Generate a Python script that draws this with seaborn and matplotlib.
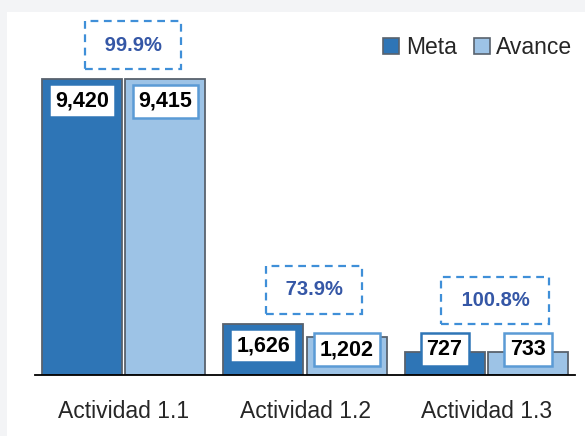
import pandas as pd
import matplotlib
matplotlib.use("Agg")
import matplotlib.pyplot as plt
import seaborn as sns
from matplotlib import font_manager
from matplotlib.patches import Rectangle

# Chart data
actividades = ["Actividad 1.1", "Actividad 1.2", "Actividad 1.3"]
meta = [9420, 1626, 727]
avance = [9415, 1202, 733]
series = ["Meta", "Avance"]

bar_colors = ["#2e75b6", "#9dc3e6"]
label_edges = ["#2e75b6", "#5b9bd5"]

df = pd.DataFrame(
    {
        "actividad": actividades * 2,
        "valor": meta + avance,
        "serie": [series[0]] * len(meta) + [series[1]] * len(avance),
    }
)

sns.set_style("white")
plt.rcParams["font.family"] = ["Liberation Sans", "DejaVu Sans"]

# condensed font for the value labels if it is there
try:
    font_manager.findfont("Liberation Sans Narrow", fallback_to_default=False)
    value_font, value_size = "Liberation Sans Narrow", 16.5
except ValueError:
    value_font, value_size = "Liberation Sans", 15.5

fig = plt.figure(figsize=(5.85, 4.36), dpi=100, facecolor="#f3f4f6")
# white panel behind the axes
fig.patches.append(
    Rectangle((7 / 585, 0), 1, (436 - 12) / 436, transform=fig.transFigure,
              facecolor="white", edgecolor="none", zorder=-10)
)
ax = fig.add_axes([35 / 585, 61 / 436, 540 / 585, 363 / 436])
ax.set_facecolor("none")

sns.barplot(
    data=df, x="actividad", y="valor", hue="serie", palette=bar_colors,
    width=0.92, gap=0.04, edgecolor="#59626d", linewidth=1.3,
    saturation=1, ax=ax, legend=False,
)

ax.set_ylim(0, 11550)
ax.set_xlim(-0.49, 2.49)
ax.set_xlabel("")
ax.set_ylabel("")
ax.set_yticks([])
for side in ["top", "right", "left"]:
    ax.spines[side].set_visible(False)
ax.spines["bottom"].set_color("black")
ax.spines["bottom"].set_linewidth(1.3)
ax.tick_params(axis="x", length=0, pad=18, labelsize=16.5, labelcolor="#262626")

# value labels in white boxes
label_tops = [0.0] * len(actividades)
for ci, cont in enumerate(ax.containers):
    for i, bar in enumerate(cont.patches):
        h = bar.get_height()
        x = bar.get_x() + bar.get_width() / 2
        y = max(h - 700, 800)
        label_tops[i] = max(label_tops[i], h, y + 480)
        ax.text(
            x, y, f"{int(h):,}", ha="center", va="center", fontsize=value_size,
            fontweight="bold", color="black", family=value_font,
            bbox=dict(boxstyle="square,pad=0.28", facecolor="white",
                      edgecolor=label_edges[ci], linewidth=1.8),
            zorder=5,
        )

# percentage boxes
for i in range(len(actividades)):
    pct = avance[i] / meta[i] * 100
    ax.text(
        i + 0.05, label_tops[i] + 1080, f" {pct:.1f}% ", ha="center",
        va="center", fontsize=14.5, fontweight="bold", color="#3557a6",
        bbox=dict(boxstyle="square,pad=0.7", facecolor="white",
                  edgecolor="#3f8fd8", linewidth=1.6,
                  linestyle=(0, (3.5, 2.5))),
        zorder=5,
    )

handles = [
    Rectangle((0, 0), 1, 1, facecolor=c, edgecolor="#59626d", linewidth=1.2)
    for c in bar_colors
]
ax.legend(
    handles, series, loc="upper right", bbox_to_anchor=(1.012, 0.958), ncol=2,
    frameon=False, fontsize=16.5, handlelength=0.7, handleheight=0.7,
    handletextpad=0.28, columnspacing=0.75, borderaxespad=0,
)

fig.savefig("out.png", dpi=100, facecolor=fig.get_facecolor())
